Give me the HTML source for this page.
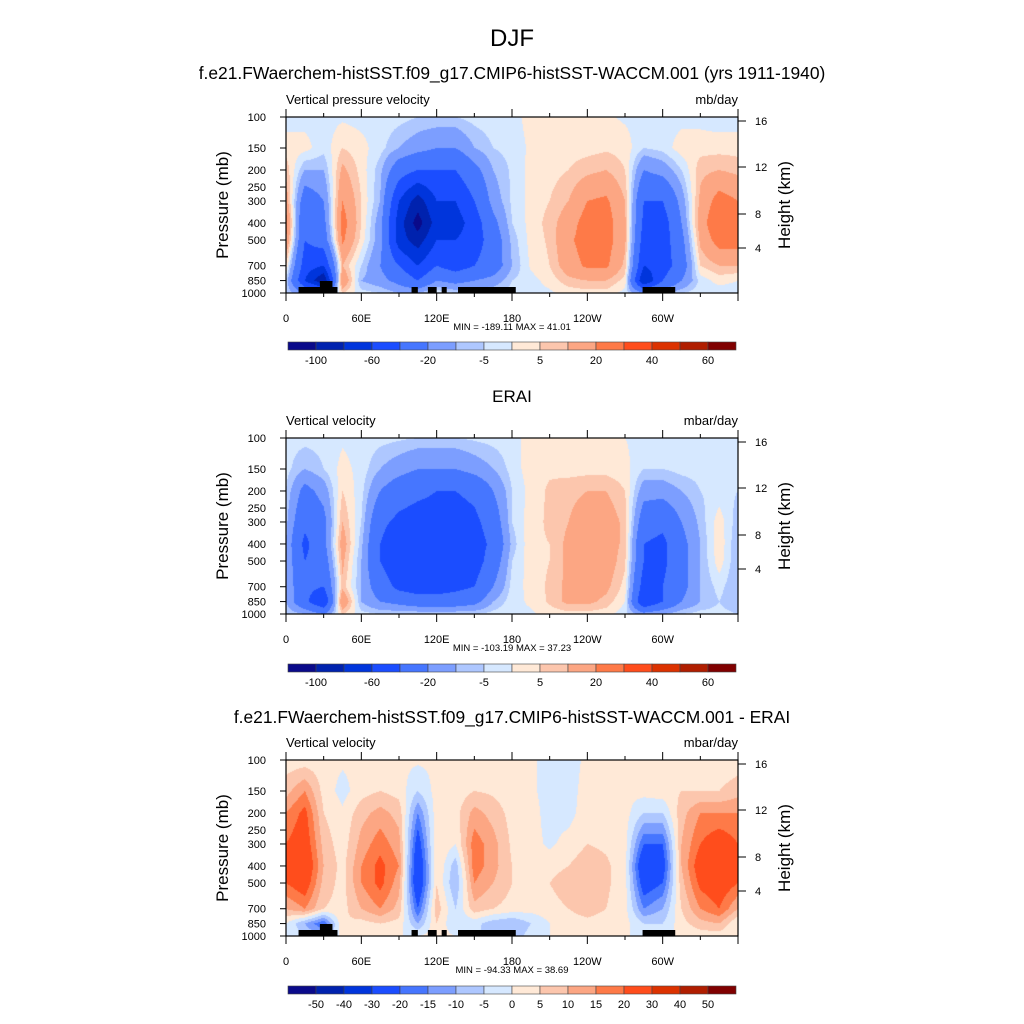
<!DOCTYPE html>
<html><head><meta charset="utf-8">
<style>
body{margin:0;background:#fff;}
#root{position:relative;width:1024px;height:1024px;overflow:hidden;font-family:"Liberation Sans",sans-serif;}
canvas{position:absolute;}
svg{position:absolute;left:0;top:0;}
</style></head>
<body>
<div id="root">
<canvas id="c0" width="452" height="176" style="left:286px;top:117px"></canvas>
<canvas id="c1" width="452" height="176" style="left:286px;top:438px"></canvas>
<canvas id="c2" width="452" height="176" style="left:286px;top:760px"></canvas>
<svg id="ov" width="1024" height="1024"></svg>
</div>
<script>
// ---- data ----
const lons = [0,15,30,45,60,75,90,105,120,135,150,165,180,195,210,225,240,255,270,285,300,315,330,345,360];
const levels = [100,150,200,300,400,500,700,850,1000];
const modelVals = [
[-3,3,8,15,25,20,5,-5,-5],
[-2,2,-10,-30,-40,-40,-50,-60,-20],
[-2,-3,-10,-20,-25,-30,-60,-100,-20],
[-1,5,12,20,25,22,10,20,5],
[-2,2,3,5,5,3,-5,-10,-3],
[-2,-3,-8,-10,-15,-15,-20,-15,-5],
[-3,-10,-30,-60,-70,-70,-40,-25,-10],
[-5,-15,-40,-90,-110,-90,-60,-40,-10],
[-5,-20,-40,-60,-70,-60,-40,-20,0],
[-5,-20,-40,-60,-70,-60,-50,-25,-5],
[-3,-10,-25,-40,-50,-50,-40,-20,-5],
[-2,-5,-10,-15,-25,-30,-30,-15,-5],
[-2,-3,-4,-4,-5,-8,-10,-5,-3],
[2,1,2,2,2,2,1,-2,-2],
[2,2,3,5,7,6,5,2,-1],
[2,3,5,10,15,18,15,8,2],
[2,3,8,20,25,25,22,10,3],
[1,4,10,22,25,25,22,10,3],
[-1,3,5,10,12,12,8,3,-2],
[-2,-5,-20,-40,-45,-50,-60,-80,-20],
[-2,-3,-15,-40,-50,-50,-50,-40,-10],
[-2,3,-5,-15,-20,-25,-30,-20,-5],
[-2,3,8,12,15,12,5,-3,-2],
[-3,3,10,25,30,25,10,2,-3],
[-3,3,8,20,30,25,10,0,-3]];
const eraiVals = [
[-3,-3,-5,-8,-10,-10,-10,-10,-5],
[-3,-10,-25,-35,-45,-40,-35,-35,-10],
[-3,-5,-15,-25,-25,-30,-40,-60,-20],
[-1,2,5,10,15,12,8,20,5],
[-2,-2,-3,-5,-8,-10,-10,-10,-3],
[-3,-10,-20,-35,-40,-40,-30,-20,-5],
[-4,-15,-30,-45,-55,-55,-45,-25,-5],
[-5,-20,-35,-50,-60,-55,-50,-30,-5],
[-5,-20,-40,-50,-55,-55,-50,-30,-5],
[-5,-20,-40,-50,-55,-50,-45,-30,-5],
[-4,-15,-35,-45,-50,-50,-40,-25,-5],
[-3,-10,-20,-30,-35,-30,-20,-10,-3],
[-2,-3,-5,-5,-8,-5,-3,-2,-1],
[2,3,2,3,4,3,2,1,-1],
[2,4,6,6,5,5,6,6,2],
[1,3,8,10,12,12,12,12,3],
[1,3,10,15,15,15,15,12,3],
[1,3,10,15,15,15,12,8,2],
[0,2,5,8,8,6,3,0,-3],
[-2,-5,-15,-30,-40,-40,-50,-60,-15],
[-2,-5,-15,-35,-45,-45,-40,-40,-10],
[-2,-3,-10,-20,-25,-25,-25,-20,-5],
[-2,-3,-5,-8,-10,-10,-10,-10,-3],
[-2,-3,-3,3,4,3,-3,-5,-3],
[-3,-3,-5,-8,-10,-10,-10,-10,-5]];
const diffVals = [
[2,8,15,20,22,20,10,0,0],
[2,15,22,25,28,25,15,-10,-5],
[2,3,5,8,10,8,5,-20,-10],
[1,-2,1,2,3,3,3,5,2],
[1,3,8,12,15,15,10,3,0],
[1,5,12,18,22,22,15,5,0],
[1,3,8,12,15,12,8,3,0],
[1,-5,-15,-25,-30,-30,-20,-10,0],
[1,2,3,5,5,5,8,5,2],
[1,2,3,0,-8,-10,-5,-5,0],
[1,5,12,18,18,15,8,-3,-3],
[1,4,8,12,12,10,5,-8,-10],
[1,2,3,4,5,5,3,-10,-8],
[1,1,2,2,3,3,2,-5,-3],
[-2,-2,-2,-1,3,5,3,0,0],
[-2,-2,-2,2,5,8,5,2,0],
[1,2,3,5,8,10,8,3,0],
[1,2,2,4,6,6,5,2,0],
[1,1,2,2,2,2,2,2,0],
[1,2,-5,-20,-30,-25,-15,-5,0],
[1,3,-5,-20,-25,-20,-10,-5,0],
[1,5,8,10,10,8,5,3,0],
[1,5,15,20,25,22,15,8,2],
[1,5,15,25,30,25,20,10,2],
[2,8,15,20,22,20,10,0,0]];
const absLevels = [-100,-80,-60,-40,-20,-10,-5,0,5,10,20,30,40,50,60];
const absLabels = ["-100","-60","-20","-5","5","20","40","60"];
const diffLevels = [-50,-40,-30,-20,-15,-10,-5,0,5,10,15,20,30,40,50];
const colors = ["#0a0a8a","#0022ae","#0035dc","#1b4dff","#4676ff","#7c9eff","#aec7ff","#d6e8ff","#ffe9d7","#fcc6ad","#fca683","#fe7a48","#ff4d1c","#dc3200","#b01e00","#800000"];
const xTickLons = [0,60,120,180,240,300];
const xTickLabels = ["0","60E","120E","180","120W","60W"];
const pTicks = [100,150,200,250,300,400,500,700,850,1000];
const hTicks = [4,8,12,16];
const topoLon = [[10,41],[27,37],[100,105],[113,120],[124,128],[137,183],[284,310]];
const topoTop = [0,1,0,0,0,0,0];

// ---- geometry ----
const X0=286, W=452, H=176;
const xs = lon => X0 + lon/360*W;
const ys = (p, top) => top + (Math.log10(p)-2)*H;
const hKnots=[4,8,12,16], hOff=[131,97,50,4];
function hy(h, top){let i=0;while(i<2&&h>hKnots[i+1])i++;const t=(h-hKnots[i])/(hKnots[i+1]-hKnots[i]);return top+hOff[i]+(hOff[i+1]-hOff[i])*t;}

function colorIdx(v, lv){let i=0; while(i<lv.length && v>=lv[i]) i++; return i;}
function hex(c){return [parseInt(c.substr(1,2),16),parseInt(c.substr(3,2),16),parseInt(c.substr(5,2),16)];}
const rgb = colors.map(hex);
function sample(vals, lon, lp){
  let i=0; while(i<lons.length-2 && lon>lons[i+1]) i++;
  const tx=(lon-lons[i])/(lons[i+1]-lons[i]);
  let j=0; const L=levels.map(Math.log10);
  while(j<L.length-2 && lp>L[j+1]) j++;
  const ty=Math.min(1,Math.max(0,(lp-L[j])/(L[j+1]-L[j])));
  const a=vals[i][j]*(1-tx)+vals[i+1][j]*tx, b=vals[i][j+1]*(1-tx)+vals[i+1][j+1]*tx;
  return a*(1-ty)+b*ty;
}
function draw(id, vals, lv){
  const c=document.getElementById(id), ctx=c.getContext('2d'), img=ctx.createImageData(W,H);
  for(let y=0;y<H;y++){const lp=2+(y+0.5)/H;
    for(let x=0;x<W;x++){const v=sample(vals,(x+0.5)/W*360,lp);const col=rgb[colorIdx(v,lv)];const k=(y*W+x)*4;
      img.data[k]=col[0];img.data[k+1]=col[1];img.data[k+2]=col[2];img.data[k+3]=255;}}
  ctx.putImageData(img,0,0);
}
draw('c0',modelVals,absLevels);draw('c1',eraiVals,absLevels);draw('c2',diffVals,diffLevels);

// ---- overlay ----
const NS="http://www.w3.org/2000/svg", ov=document.getElementById('ov');
function el(tag,attrs,parent){const e=document.createElementNS(NS,tag);for(const k in attrs)e.setAttribute(k,attrs[k]);(parent||ov).appendChild(e);return e;}
function txt(x,y,s,size,anchor,name,extra){const t=el('text',Object.assign({x:x,y:y,'font-size':size,'text-anchor':anchor||'middle',fill:'#000','font-family':'Liberation Sans, sans-serif'},extra||{}));t.textContent=s;


return t;}

txt(512,46,"DJF",24,'middle','figure-title');
txt(512,79,"f.e21.FWaerchem-histSST.f09_g17.CMIP6-histSST-WACCM.001 (yrs 1911-1940)",17.4,'middle','model-title');
txt(512,402,"ERAI",17,'middle','erai-title');
txt(512,723,"f.e21.FWaerchem-histSST.f09_g17.CMIP6-histSST-WACCM.001 - ERAI",17.4,'middle','difference-title');

const panels=[{top:117,left:"Vertical pressure velocity",right:"mb/day",mm:"MIN = -189.11  MAX =  41.01",cb:342,lv:absLevels,lab:absLabels,topo:true},
{top:438,left:"Vertical velocity",right:"mbar/day",mm:"MIN = -103.19  MAX =  37.23",cb:664,lv:absLevels,lab:absLabels,topo:false},
{top:760,left:"Vertical velocity",right:"mbar/day",mm:"MIN = -94.33  MAX =  38.69",cb:986,lv:diffLevels,lab:diffLevels.map(String),topo:true}];
panels.forEach((P,pi)=>{
  const T=P.top, B=T+H;
  txt(X0,T-13,P.left,13,'start','panel-left-string');
  txt(X0+W,T-13,P.right,13,'end','units-label');
  if(P.topo){topoLon.forEach((r,k)=>{const yt=topoTop[k]?B-12:B-6;
    const rc=el('rect',{x:xs(r[0]),y:yt,width:xs(r[1])-xs(r[0]),height:B-yt,fill:'#000'});
    
    });}
  const fr=el('rect',{x:X0,y:T,width:W,height:H,fill:'none',stroke:'#000','stroke-width':1.2});
  
  
  for(let lon=0;lon<=360;lon+=30){const maj=lon%60===0;const len=maj?8:4;
    el('line',{x1:xs(lon),x2:xs(lon),y1:B,y2:B+len,stroke:'#000'});
    el('line',{x1:xs(lon),x2:xs(lon),y1:T,y2:T-len,stroke:'#000'});}
  xTickLons.forEach((lon,k)=>txt(xs(lon),B+29,xTickLabels[k],11,'middle','x-tick-label'));
  pTicks.forEach(p=>{const y=ys(p,T);el('line',{x1:X0-6,x2:X0,y1:y,y2:y,stroke:'#000'});
    txt(X0-20,y+4,String(p),11,'end','pressure-tick-label');});
  hTicks.forEach(h=>{const y=hy(h,T);el('line',{x1:X0+W,x2:X0+W+8,y1:y,y2:y,stroke:'#000'});
    txt(X0+W+17,y+4,String(h),11,'start','height-tick-label');});
  txt(228,T+H/2,"Pressure (mb)",17,'middle','y-axis-title',{transform:`rotate(-90 228 ${T+H/2})`});
  txt(790,T+H/2,"Height (km)",17,'middle','y2-axis-title',{transform:`rotate(-90 790 ${T+H/2})`});
  txt(512,B+37,P.mm,9.5,'middle','min-max-label');
  // colorbar
  const cw=28, cx0=288;
  colors.forEach((c,k)=>{const r=el('rect',{x:cx0+k*cw,y:P.cb,width:cw,height:8,fill:c,stroke:'#444','stroke-width':0.6});
    
    });
  if(pi<2){P.lab.forEach((s,k)=>txt(cx0+(2*k+1)*cw,P.cb+22,s,11,'middle','colorbar-label'));}
  else{P.lab.forEach((s,k)=>txt(cx0+(k+1)*cw,P.cb+22,s,11,'middle','colorbar-label'));}
});
</script>
</body></html>
